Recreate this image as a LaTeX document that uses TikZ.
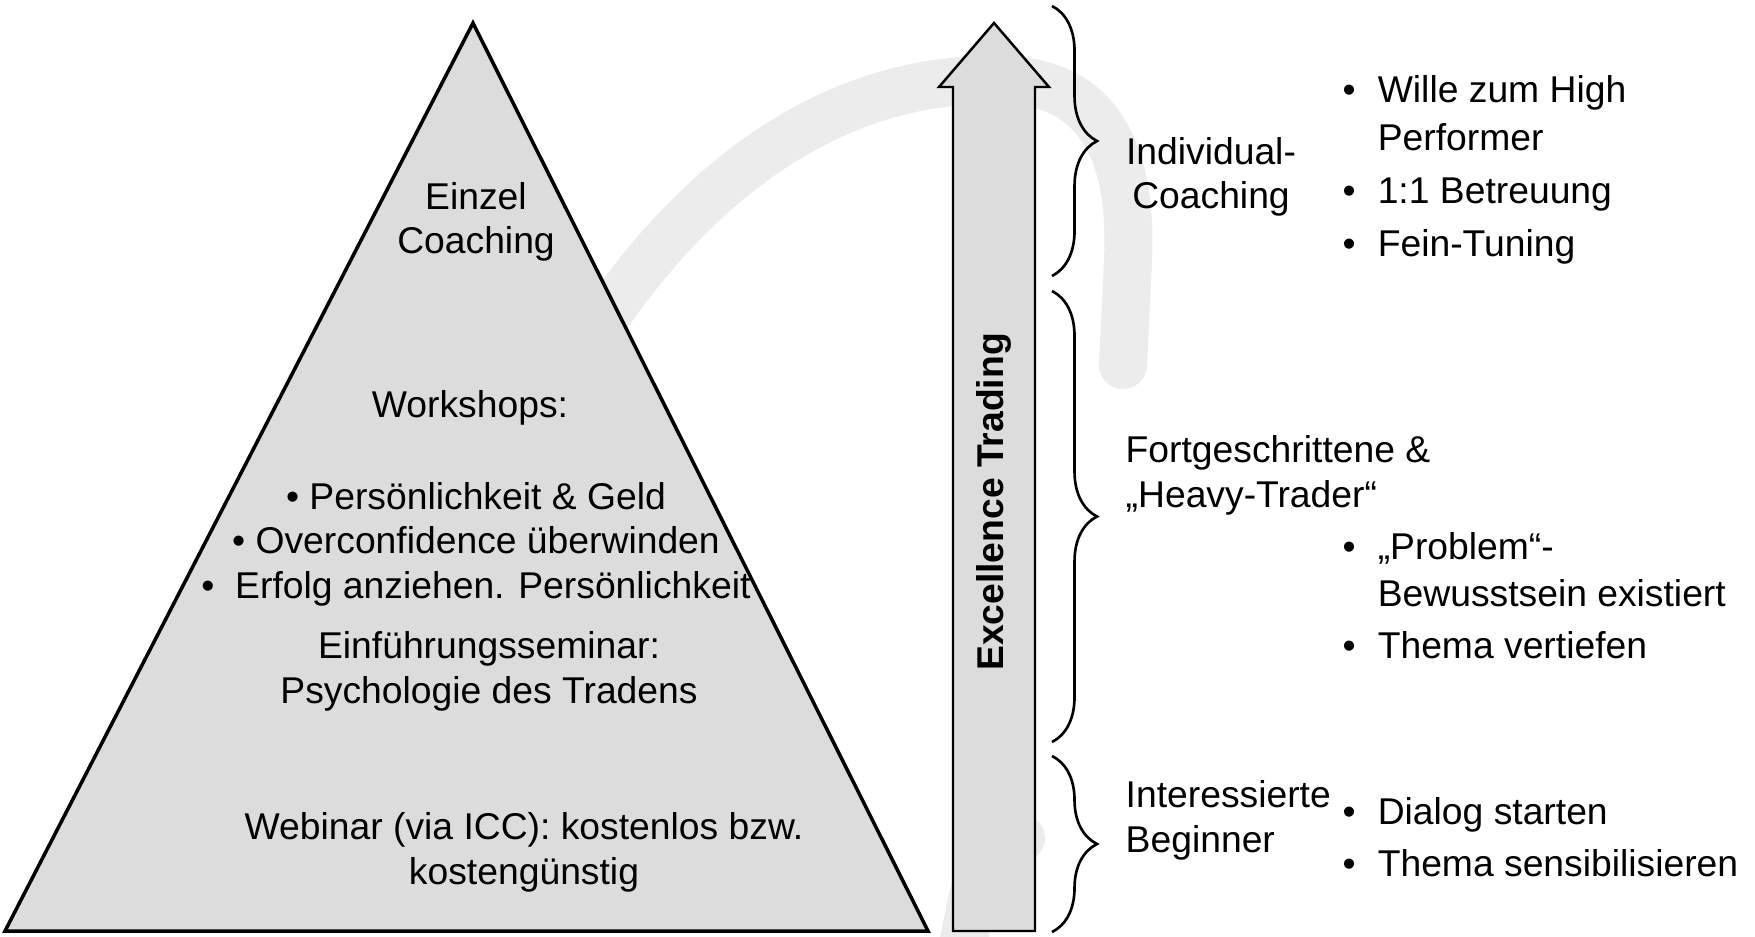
\documentclass[tikz,border=0pt]{standalone}
\usepackage{fontspec}
\setmainfont{Liberation Sans}
\usepackage{xcolor}
\usepackage{tikz}
\usetikzlibrary{decorations.pathreplacing}

\definecolor{pyrgray}{RGB}{220,220,220}
\definecolor{arcgray}{RGB}{235,236,235}

\begin{document}
\begin{tikzpicture}[x=0.01cm, y=-0.01cm,
                    txt/.style={font=\fontsize{10.6}{12.6}\selectfont,
                    inner sep=0pt, anchor=base, align=center},
                    lst/.style={font=\fontsize{10.6}{13.6}\selectfont,
                    inner sep=0pt, anchor=base west},
                    brc/.style={decorate, decoration={brace, amplitude=0.45cm},
                    line width=0.75pt},
                    shp/.style={draw, fill=pyrgray}]
    \useasboundingbox (0,0) rectangle (1755,937);
    \draw[arcgray, line width=0.48cm, line cap=round]
        (545,420) .. controls (610,290) and (760,75) .. (1000,80)
                  .. controls (1110,80) and (1132,170) .. (1128,260) -- (1123,365)
        (1021,838) .. controls (995,850) and (980,870) .. (972,900) -- (960,960);

    \draw[shp, line width=1pt] (473,23) -- (928,931) -- (5,931) -- cycle;
    \draw[shp, line width=0.7pt] (994,23) -- (1049,87) -- (1035,87) -- (1035,931)
        -- (953,931) -- (953,87) -- (939,87) -- cycle;

    \node[txt] (einzel) at (476,254) {Einzel\\Coaching};
    \node[txt] (work) at (470,418) {Workshops:};
    \node[txt] (wsitems) at (476,598) {• Persönlichkeit \& Geld\\• Overconfidence überwinden\\•~~Erfolg anziehen. Persönlichkeit};
    \node[txt] (einf) at (489,703) {Einführungsseminar:\\Psychologie des Tradens};
    \node[txt] (web) at (524,884) {Webinar (via ICC): kostenlos bzw.\\kostengünstig};
    \node[font=\fontsize{10.6}{12.6}\selectfont\bfseries, rotate=90, inner sep=0pt] (exc) at (994,502) {Excellence Trading};

    \coordinate (b1a) at (1052,6);   \coordinate (b1b) at (1052,276);
    \coordinate (b2a) at (1052,291); \coordinate (b2b) at (1052,742);
    \coordinate (b3a) at (1052,756); \coordinate (b3b) at (1052,932);
    \draw[brc] (b1a) -- (b1b);
    \draw[brc] (b2a) -- (b2b);
    \draw[brc] (b3a) -- (b3b);

    \node[txt] (indiv) at (1211,209) {Individual-\\Coaching};
    \node[txt, anchor=base west, align=left] (fort) at (1125,507) {Fortgeschrittene \&\\„Heavy-Trader“};
    \node[txt, anchor=base west, align=left] (inter) at (1125,852) {Interessierte\\Beginner};

    \node[lst] (lista) at (1342,103) {\begin{tabular}[t]{@{}l@{\hspace{0.22cm}}l@{}}
        •&Wille zum High\\&Performer\\[1.4pt]•&1:1 Betreuung\\[1.4pt]•&Fein-Tuning\end{tabular}};
    \node[lst] (listb) at (1342,559) {\begin{tabular}[t]{@{}l@{\hspace{0.22cm}}l@{}}
        •&„Problem“-\\&Bewusstsein existiert\\[1.2pt]•&Thema vertiefen\end{tabular}};
    \node[lst] (listc) at (1342,824) {\begin{tabular}[t]{@{}l@{\hspace{0.22cm}}l@{}}
        •&Dialog starten\\[1.4pt]•&Thema sensibilisieren\end{tabular}};
\end{tikzpicture}
\end{document}
